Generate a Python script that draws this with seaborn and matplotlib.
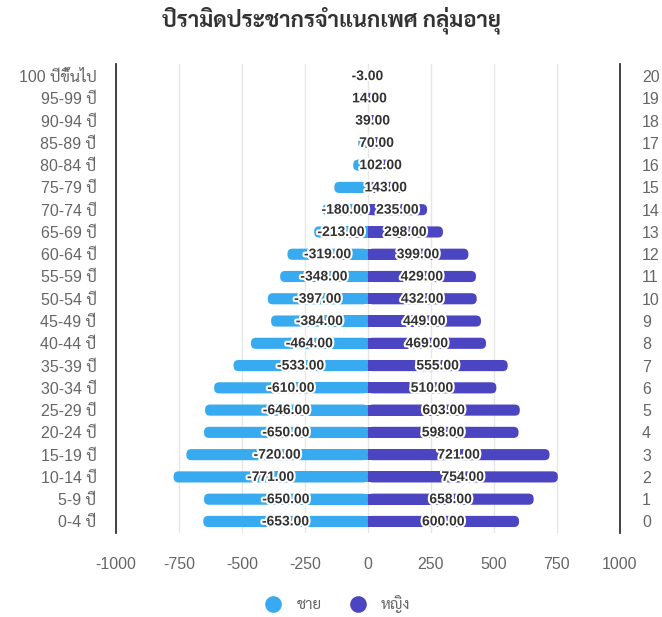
import matplotlib
matplotlib.use("Agg")
import matplotlib.pyplot as plt
import matplotlib.patheffects as pe
from matplotlib.patches import FancyBboxPatch, Rectangle, BoxStyle
from matplotlib.lines import Line2D
import seaborn as sns
import pandas as pd

# Age groups, top to bottom
age_groups = ["100 ปีขึ้นไป", "95-99 ปี", "90-94 ปี", "85-89 ปี", "80-84 ปี",
              "75-79 ปี", "70-74 ปี", "65-69 ปี", "60-64 ปี", "55-59 ปี",
              "50-54 ปี", "45-49 ปี", "40-44 ปี", "35-39 ปี", "30-34 ปี",
              "25-29 ปี", "20-24 ปี", "15-19 ปี", "10-14 ปี", "5-9 ปี", "0-4 ปี"]
# Male counts are negative so they extend to the left
male = [-3, -7, -20, -38, -58, -133, -180, -213, -319, -348, -397, -384,
        -464, -533, -610, -646, -650, -720, -771, -650, -653]
female = [2, 14, 39, 70, 102, 143, 235, 298, 399, 429, 432, 449, 469, 555,
          510, 603, 598, 721, 754, 658, 600]
right_labels = [str(i) for i in range(20, -1, -1)]
series_names = ["ชาย", "หญิง"]
x_ticks = [-1000, -750, -500, -250, 0, 250, 500, 750, 1000]

male_color = "#38abf0"
female_color = "#4c45c2"
text_gray = "#666666"

sns.set_theme(style="white")
plt.rcParams["font.family"] = ["Liberation Sans", "Sarabun"]

df = pd.DataFrame({
    "age": age_groups * 2,
    "value": male + female,
    "sex": [series_names[0]] * len(male) + [series_names[1]] * len(female),
})

fig = plt.figure(figsize=(6.62, 6.17), dpi=100)
ax = fig.add_axes([0.175, 0.1361, 0.7613, 0.7601])

sns.barplot(data=df, x="value", y="age", hue="sex", order=age_groups,
            hue_order=series_names, palette=[male_color, female_color],
            saturation=1, dodge=False, width=0.5, orient="h", legend=False,
            ax=ax)

ax.set_xlim(-1000, 1000)
ax.set_ylim(20.52, -0.54)

# Rounded outer ends for each bar, square at the centre line
fig.canvas.draw()
px_per_x = ax.transData.transform((1, 0))[0] - ax.transData.transform((0, 0))[0]
px_per_y = abs(ax.transData.transform((0, 1))[1] - ax.transData.transform((0, 0))[1])
aspect = px_per_x / px_per_y
radius_px = 5.0
for bar in list(ax.patches):
    x0, y0 = bar.get_x(), bar.get_y()
    w, h = bar.get_width(), bar.get_height()
    color = bar.get_facecolor()
    bar.set_visible(False)
    if w == 0:
        continue
    left = min(x0, x0 + w)
    aw = abs(w)
    r = min(radius_px / px_per_x, aw / 2, h / aspect / 2)
    ax.add_patch(FancyBboxPatch((left, y0), aw, h,
                                boxstyle=BoxStyle.Round(pad=0, rounding_size=r),
                                mutation_aspect=aspect, facecolor=color,
                                edgecolor="none", zorder=2))
    ax.add_patch(Rectangle((min(0, w / 2), y0), abs(w) / 2, h,
                           facecolor=color, edgecolor="none", zorder=2))

# Axes styling
ax.set_xticks(x_ticks)
ax.set_xticklabels([str(t) for t in x_ticks])
ax.grid(axis="x", color="#e6e6e6", linewidth=1)
ax.grid(axis="y", visible=False)
ax.set_axisbelow(True)
for side in ("top", "bottom"):
    ax.spines[side].set_visible(False)
for side in ("left", "right"):
    ax.spines[side].set_color("#333333")
    ax.spines[side].set_linewidth(1.3)
ax.tick_params(axis="both", length=0, labelsize=11.5, colors=text_gray)
ax.tick_params(axis="x", pad=17)
ax.tick_params(axis="y", pad=14)
ax.set_xlabel("")
ax.set_ylabel("")

ax2 = ax.twinx()
ax2.set_ylim(ax.get_ylim())
ax2.set_yticks(range(len(right_labels)))
ax2.set_yticklabels(right_labels)
ax2.tick_params(axis="y", length=0, labelsize=11.5, colors=text_gray, pad=16)
for side in ("top", "bottom", "left", "right"):
    ax2.spines[side].set_visible(False)

# Value labels centred on each bar
outline = [pe.withStroke(linewidth=3, foreground="white")]
labels = []
for i in range(len(age_groups)):
    pair = []
    for v in (male[i], female[i]):
        t = ax.text(v / 2, i, f"{v:.2f}", ha="center", va="center",
                    fontsize=10, fontweight="bold", color="#333333",
                    path_effects=outline, zorder=5)
        pair.append((abs(v), t))
    labels.append(pair)

# Hide the smaller label of a row when the two would overlap
fig.canvas.draw()
renderer = fig.canvas.get_renderer()
for pair in labels:
    (vm, tm), (vf, tf) = pair
    bm = tm.get_window_extent(renderer)
    bf = tf.get_window_extent(renderer)
    if bm.x1 > bf.x0:
        (tf if vf < vm else tm).set_visible(False)

fig.suptitle("ปิรามิดประชากรจำแนกเพศ กลุ่มอายุ", y=0.99, fontsize=16,
             fontweight="bold", color="#333333", family=["Sarabun"])

handles = [Line2D([], [], marker="o", linestyle="none", markersize=12,
                  markerfacecolor=c, markeredgecolor="none")
           for c in (male_color, female_color)]
fig.legend(handles, series_names, loc="center", bbox_to_anchor=(0.505, 0.021),
           ncol=2, frameon=False, fontsize=11, labelcolor=text_gray,
           handletextpad=0.5, columnspacing=1.4)

fig.savefig("out.png", dpi=100)
